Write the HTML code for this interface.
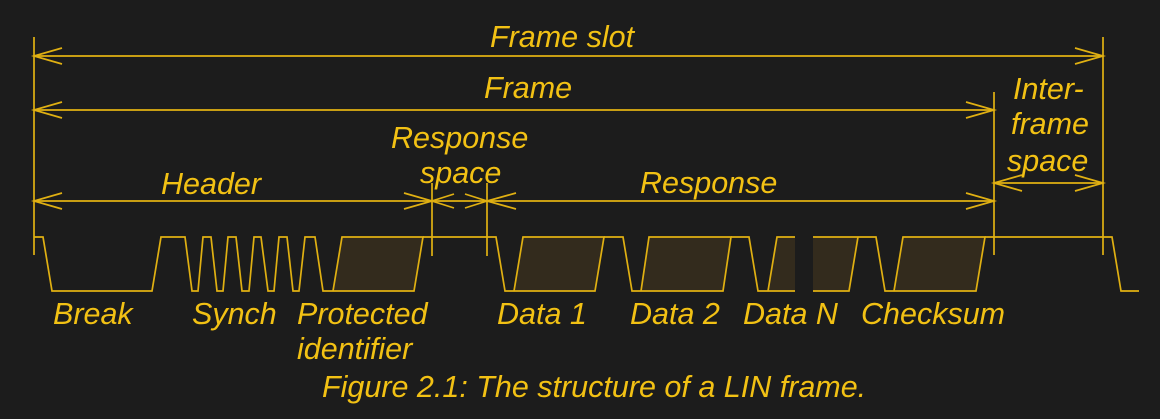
<!DOCTYPE html>
<html>
<head>
<meta charset="utf-8">
<style>
  html, body { margin:0; padding:0; background:#1c1c1c; }
  body { width:1160px; height:419px; overflow:hidden; }
  svg { display:block; }
  text { font-family:"Liberation Sans", Arial, sans-serif; font-style:italic; fill:#f2c114; font-size:30.5px; }
</style>
</head>
<body>
<svg width="1160" height="419" viewBox="0 0 1160 419" xmlns="http://www.w3.org/2000/svg">
  <rect x="0" y="0" width="1160" height="419" fill="#1c1c1c"/>

  <!-- labels -->
  <text x="490" y="47">Frame slot</text>
  <text x="484" y="98">Frame</text>
  <text x="391" y="148">Response</text>
  <text x="420" y="183">space</text>
  <text x="161" y="194">Header</text>
  <text x="640" y="193">Response</text>
  <text x="1013" y="99">Inter-</text>
  <text x="1011" y="134">frame</text>
  <text x="1007" y="171">space</text>

  <text x="53" y="324">Break</text>
  <text x="192" y="324">Synch</text>
  <text x="297" y="324">Protected</text>
  <text x="297" y="359">identifier</text>
  <text x="497" y="324">Data 1</text>
  <text x="630" y="324">Data 2</text>
  <text x="743" y="324">Data N</text>
  <text x="861" y="324">Checksum</text>

  <text x="322" y="397" style="font-size:30.5px">Figure 2.1: The structure of a LIN frame.</text>

  <g stroke="#e0b012" stroke-width="1.7" fill="none" stroke-linecap="butt" stroke-linejoin="miter">
    <!-- vertical markers -->
    <line x1="34" y1="37" x2="34" y2="255"/>
    <line x1="432" y1="183" x2="432" y2="256"/>
    <line x1="487" y1="183" x2="487" y2="256"/>
    <line x1="994" y1="92" x2="994" y2="255"/>
    <line x1="1103" y1="37" x2="1103" y2="255"/>

    <!-- Frame slot -->
    <line x1="34" y1="56" x2="1103" y2="56"/>
    <polyline points="62,48 34,56 62,64"/>
    <polyline points="1075,48 1103,56 1075,64"/>

    <!-- Frame -->
    <line x1="34" y1="110" x2="994" y2="110"/>
    <polyline points="62,102 34,110 62,118"/>
    <polyline points="966,102 994,110 966,118"/>

    <!-- Header -->
    <line x1="34" y1="201" x2="432" y2="201"/>
    <polyline points="62,193 34,201 62,209"/>
    <polyline points="404,193 432,201 404,209"/>

    <!-- Response space -->
    <line x1="432" y1="201" x2="487" y2="201"/>
    <polyline points="454,194 432,201 454,208"/>
    <polyline points="465,194 487,201 465,208"/>

    <!-- Response -->
    <line x1="487" y1="201" x2="994" y2="201"/>
    <polyline points="516,193 487,201 516,209"/>
    <polyline points="966,193 994,201 966,209"/>

    <!-- Inter-frame space -->
    <line x1="994" y1="183" x2="1103" y2="183"/>
    <polyline points="1022,175 994,183 1022,191"/>
    <polyline points="1075,175 1103,183 1075,191"/>
  </g>

  <!-- data fills -->
  <g fill="#332b1d" stroke="none">
    <polygon points="333,291 342,237 423,237 414,291"/>
    <polygon points="514,291 523,237 604,237 595,291"/>
    <polygon points="641,291 649,237 731,237 723,291"/>
    <polygon points="768,291 777,237 795,237 795,291"/>
    <polygon points="813,291 813,237 858,237 849,291"/>
    <polygon points="894,291 903,237 985,237 976,291"/>
  </g>

  <!-- waveform -->
  <g stroke="#e0b012" stroke-width="1.7" fill="none" stroke-linejoin="miter">
    <path d="M34,237 H43 L52,291 H152 L161,237 H185 L192,291 H198 L203,237 H211 L217,291 H223 L228,237 H236 L242,291 H249 L254,237 H261 L268,291 H274 L279,237 H287 L293,291 H299 L305,237 H315 L323,291 H414 L423,237 H342 L333,291"/>
    <path d="M423,237 H496 L505,291 H595 L604,237 H523 L514,291"/>
    <path d="M604,237 H623 L632,291 H723 L731,237 H649 L641,291"/>
    <path d="M731,237 H749 L758,291 H795"/>
    <path d="M795,237 H777 L768,291"/>
    <path d="M813,237 H876 L885,291 H976 L985,237 H903 L894,291"/>
    <path d="M813,291 H849 L858,237"/>
    <path d="M985,237 H1112 L1121,291 H1139"/>
  </g>
</svg>
</body>
</html>
